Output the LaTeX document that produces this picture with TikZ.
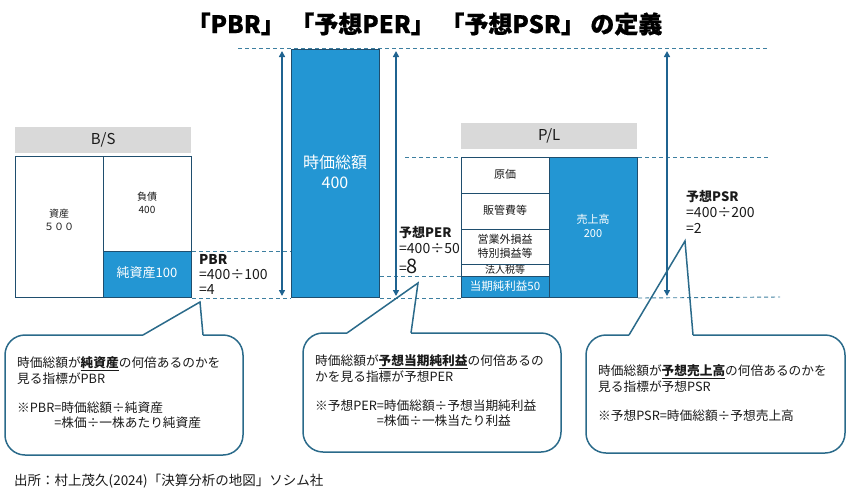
\documentclass[tikz,border=0pt]{standalone}
\usepackage{fontspec}
\setmainfont{Noto Sans CJK JP}
\newfontfamily\titlefont{Noto Sans CJK JP}[BoldFeatures={FakeBold=0.6}]
\usetikzlibrary{arrows.meta}
\definecolor{bfill}{HTML}{2396D3}
\definecolor{bline}{HTML}{1F4E6E}
\definecolor{arrowc}{HTML}{1F6390}
\definecolor{dashc}{HTML}{3D7FA0}
\definecolor{callc}{HTML}{2A6A8A}
\definecolor{hdrgray}{HTML}{D9D9D9}
\definecolor{txt}{HTML}{1A1A1A}
\begin{document}
\begin{tikzpicture}[x=1pt,y=-1pt,
  hdr/.style={fill=hdrgray, minimum width=176pt, minimum height=26pt, inner sep=0pt, anchor=north west, font=\fontsize{15}{18}\selectfont, text=txt},
  wbox/.style={draw=bline, fill=white, line width=1pt, minimum width=88pt, inner sep=0pt, anchor=north west},
  bbox/.style={draw=bline, fill=bfill, line width=1pt, minimum width=88pt, inner sep=0pt, anchor=north west},
  guide/.style={draw=dashc, line width=0.9pt, dash pattern=on 4pt off 3pt},
  dim/.style={draw=arrowc, line width=1.6pt, {Triangle[width=6pt,length=6pt]}-{Triangle[width=6pt,length=6pt]}},
  callout/.style={draw=callc, line width=1.5pt},
  ctext/.style={anchor=west, align=left, inner sep=0pt, text=txt, font=\fontsize{12.7}{15.2}\selectfont},
  lbl/.style={anchor=west, inner sep=0pt, text=txt, font=\fontsize{14}{15}\selectfont},
  wtext/.style={text=white, align=center, inner sep=0pt}
]
\useasboundingbox (0,0) rectangle (850,496);

% title
\node[font=\titlefont\fontsize{24}{28}\selectfont\bfseries, text=black] (title) at (424.5,24) {「PBR」 「予想PER」 「予想PSR」 の定義};

% guide lines (behind boxes)
\coordinate (t0) at (238,48); \coordinate (t1) at (768,48);
\draw[guide] (t0) -- (t1);

% B/S
\node[hdr] (bsh) at (15,127) {B/S};
\node[wbox, minimum height=141pt] (asset) at (15,156) {};
\node[wbox, minimum height=95pt] (liab) at (103,156) {};
\node[bbox, minimum height=46pt] (equity) at (103,251) {};
\node[align=center, inner sep=0pt, text=txt, font=\fontsize{10}{13}\selectfont] (assetT) at (59,220) {資産\\５００};
\node[align=center, inner sep=0pt, text=txt, font=\fontsize{10}{13}\selectfont] (liabT) at (147,202.5) {負債\\400};
\node[wtext, font=\fontsize{13}{15}\selectfont] (equityT) at (147,273) {純資産100};

% market cap
\node[bbox, minimum height=248pt] (mcap) at (291,49) {};
\node[wtext, font=\fontsize{16}{20}\selectfont] (mcapT) at (335,172) {時価総額\\400};

% P/L
\node[hdr] (plh) at (461,123) {P/L};
\node[wbox, minimum height=36pt] (cost) at (461,157) {};
\node[wbox, minimum height=36pt] (sga) at (461,193) {};
\node[wbox, minimum height=35pt] (nonop) at (461,229) {};
\node[wbox, minimum height=12pt] (tax) at (461,264) {};
\node[bbox, minimum height=21pt] (ni) at (461,276) {};
\node[bbox, minimum height=140pt] (sales) at (549,157) {};
\node[inner sep=0pt, text=txt, font=\fontsize{11}{13}\selectfont] (costT) at (505,174) {原価};
\node[inner sep=0pt, text=txt, font=\fontsize{11}{13}\selectfont] (sgaT) at (505,210) {販管費等};
\node[align=center, inner sep=0pt, text=txt, font=\fontsize{11}{14.5}\selectfont] (nonopT) at (505,246.5) {営業外損益\\特別損益等};
\node[inner sep=0pt, text=txt, font=\fontsize{10}{12}\selectfont] (taxT) at (505,269.5) {法人税等};
\node[wtext, font=\fontsize{11.5}{13}\selectfont] (niT) at (505,286) {当期純利益50};
\node[wtext, font=\fontsize{11}{14}\selectfont] (salesT) at (593,226) {売上高\\200};

% other guides
\draw[guide] (equity.north east) -- (mcap.west |- equity.north east);
\draw[guide] (equity.south east) -- (mcap.south west);
\draw[guide] (mcap.east |- ni.north west) -- (ni.north west);
\draw[guide] (mcap.south east) -- (ni.south west);
\coordinate (p0) at (405,157); \coordinate (p1) at (768,157); \coordinate (b1) at (780,297);
\draw[guide] (p0) -- (cost.north west);
\draw[guide] (sales.north east) -- (p1);
\draw[guide] (sales.south east) -- (b1);

% dimension arrows
\coordinate (a1t) at (282,51); \coordinate (a1b) at (282,296);
\coordinate (a2t) at (396,51); \coordinate (a2b) at (396,296);
\coordinate (a3t) at (667,51); \coordinate (a3b) at (667,296);
\draw[dim] (a1t) -- (a1b);
\draw[dim] (a2t) -- (a2b);
\draw[dim] (a3t) -- (a3b);

% ratio labels
\node[lbl, font=\fontsize{13.5}{15}\selectfont\bfseries] (pbr1) at (199,259) {PBR};
\node[lbl] (pbr2) at (199,275) {=400÷100};
\node[lbl] (pbr3) at (199,290) {=4};
\node[lbl, font=\fontsize{13}{15}\selectfont\bfseries] (per1) at (399,233) {予想PER};
\node[lbl] (per2) at (399,248.5) {=400÷50};
\node[lbl] (per3) at (399,266) {=\fontsize{20}{20}\selectfont 8};
\node[lbl, font=\fontsize{13}{15}\selectfont\bfseries] (psr1) at (686,197) {予想PSR};
\node[lbl] (psr2) at (686,213) {=400÷200};
\node[lbl] (psr3) at (686,228) {=2};

% callouts
\coordinate (c1tip) at (200,302);
\draw[callout, rounded corners=20pt] (203,335) -- (243,335) -- (243,455) -- (5,455) -- (5,335) -- (143,335);
\draw[callout, line join=miter] (143,335) -- (c1tip) -- (203,335);
\node[ctext] (c1a) at (17,370.5) {時価総額が\underline{\textbf{純資産}}の何倍あるのかを\\見る指標がPBR};
\node[ctext] (c1b) at (17,415.5) {※PBR=時価総額÷純資産\\\phantom{※PBR}=株価÷一株あたり純資産};

\coordinate (c2tip) at (418,283);
\draw[callout, rounded corners=20pt] (411,333) -- (561,333) -- (561,452) -- (303,452) -- (303,333) -- (347,333);
\draw[callout, line join=miter] (347,333) -- (c2tip) -- (411,333);
\node[ctext] (c2a) at (315,368.5) {時価総額が\underline{\textbf{予想当期純利益}}の何倍あるの\\かを見る指標が予想PER};
\node[ctext] (c2b) at (315,413.5) {※予想PER=時価総額÷予想当期純利益\\\phantom{※予想PER}=株価÷一株当たり利益};

\coordinate (c3tip) at (685,241);
\draw[callout, rounded corners=20pt] (693,335) -- (845,335) -- (845,453) -- (586,453) -- (586,335) -- (629,335);
\draw[callout, line join=miter] (629,335) -- (c3tip) -- (693,335);
\node[ctext] (c3a) at (598,378.5) {時価総額が\underline{\textbf{予想売上高}}の何倍あるのかを\\見る指標が予想PSR};
\node[ctext] (c3b) at (598,416) {※予想PSR=時価総額÷予想売上高};

% source
\node[anchor=west, inner sep=0pt, text=txt, font=\fontsize{13.5}{16}\selectfont] (src) at (14,481) {出所：村上茂久(2024)「決算分析の地図」ソシム社};
\end{tikzpicture}
\end{document}
